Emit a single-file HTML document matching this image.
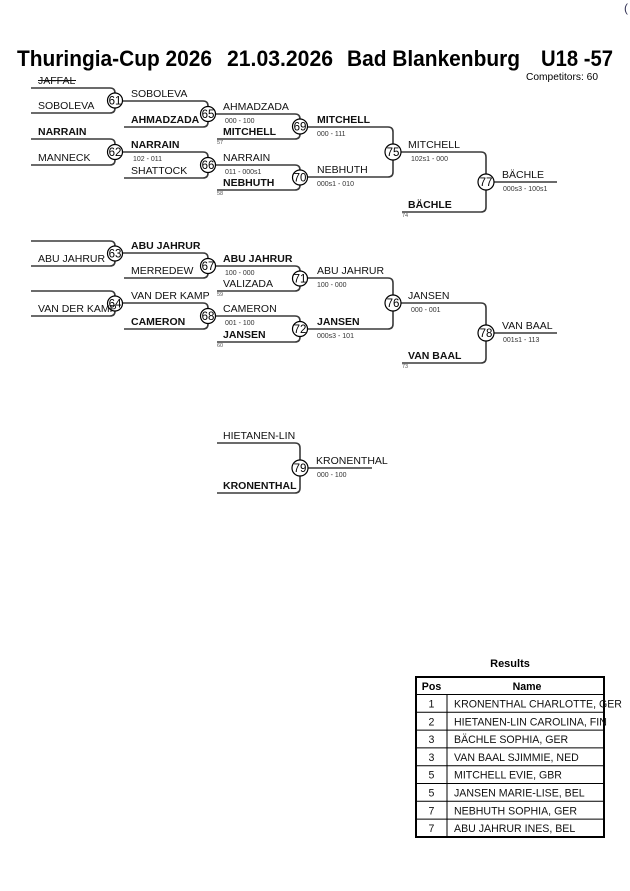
<!DOCTYPE html>
<html><head><meta charset="utf-8"><style>
html,body{margin:0;padding:0;background:#fff;}
svg{display:block;}
text{font-family:"Liberation Sans",Arial,sans-serif;}
.n{font-size:10.5px;fill:#111;}
.b{font-weight:bold;}
.s{font-size:7px;fill:#333;}
.t{font-size:5.5px;fill:#555;}
.c{font-size:11.5px;fill:#000;text-anchor:middle;}
.ln{fill:none;stroke:#3a3a3a;stroke-width:1.6;}
.fl{fill:none;stroke:#6a6a6a;stroke-width:2;}
.ci{fill:#fff;stroke:#000;stroke-width:1.2;}
.r{font-size:10.6px;fill:#111;}
</style></head><body>
<svg width="630" height="891" viewBox="0 0 630 891" xmlns="http://www.w3.org/2000/svg">
<!-- header -->
<text x="624" y="12" style="font-size:12px;fill:#335">(</text>
<text x="17" y="66" style="font-size:22px;font-weight:bold" textLength="195" lengthAdjust="spacingAndGlyphs">Thuringia-Cup 2026</text>
<text x="227" y="66" style="font-size:22px;font-weight:bold" textLength="106" lengthAdjust="spacingAndGlyphs">21.03.2026</text>
<text x="347" y="66" style="font-size:22px;font-weight:bold" textLength="173" lengthAdjust="spacingAndGlyphs">Bad Blankenburg</text>
<text x="541" y="66" style="font-size:22px;font-weight:bold" textLength="72" lengthAdjust="spacingAndGlyphs">U18 -57</text>
<text x="526" y="80" style="font-size:10px" textLength="72" lengthAdjust="spacingAndGlyphs">Competitors: 60</text>

<!-- bracket lines section 1 -->
<path class="ln" d="M31 88 H110 Q115 88 115 93 V108 Q115 113 110 113 H31"/>
<path class="ln" d="M31 139 H110 Q115 139 115 144 V160 Q115 165 110 165 H31"/>
<path class="ln" d="M115 101 H203 Q208 101 208 106 V122 Q208 127 203 127 H124"/>
<path class="ln" d="M115 152 H203 Q208 152 208 157 V173 Q208 178 203 178 H124"/>
<path class="ln" d="M208 114 H295 Q300 114 300 119 V134 Q300 139 295 139 H217"/>
<path class="ln" d="M208 165 H295 Q300 165 300 170 V185 Q300 190 295 190 H217"/>
<path class="ln" d="M300 127 H388 Q393 127 393 132 V172 Q393 177 388 177 H300"/>
<path class="ln" d="M393 152 H481 Q486 152 486 157 V207 Q486 212 481 212 H402"/>
<path class="fl" d="M486 182 H557"/>

<!-- bracket lines section 2 -->
<path class="ln" d="M31 241 H110 Q115 241 115 246 V261 Q115 266 110 266 H31"/>
<path class="ln" d="M31 291 H110 Q115 291 115 296 V311 Q115 316 110 316 H31"/>
<path class="ln" d="M115 253 H203 Q208 253 208 258 V273 Q208 278 203 278 H124"/>
<path class="ln" d="M115 303 H203 Q208 303 208 308 V324 Q208 329 203 329 H124"/>
<path class="ln" d="M208 266 H295 Q300 266 300 271 V286 Q300 291 295 291 H217"/>
<path class="ln" d="M208 316 H295 Q300 316 300 321 V337 Q300 342 295 342 H217"/>
<path class="ln" d="M300 278 H388 Q393 278 393 283 V324 Q393 329 388 329 H300"/>
<path class="ln" d="M393 303 H481 Q486 303 486 308 V358 Q486 363 481 363 H402"/>
<path class="fl" d="M486 333 H557"/>

<!-- section 3 -->
<path class="ln" d="M217 443 H295 Q300 443 300 448 V488 Q300 493 295 493 H217"/>
<path class="fl" d="M300 468 H372"/>

<!-- circles -->
<g>
<circle class="ci" cx="115" cy="100.5" r="7.5"/><text class="c" x="115" y="104.7">61</text>
<circle class="ci" cx="115" cy="152" r="7.5"/><text class="c" x="115" y="156.2">62</text>
<circle class="ci" cx="208" cy="114" r="7.5"/><text class="c" x="208" y="118.2">65</text>
<circle class="ci" cx="208" cy="165" r="7.5"/><text class="c" x="208" y="169.2">66</text>
<circle class="ci" cx="300" cy="126.5" r="7.5"/><text class="c" x="300" y="130.7">69</text>
<circle class="ci" cx="300" cy="177.5" r="7.5"/><text class="c" x="300" y="181.7">70</text>
<circle class="ci" cx="393" cy="152" r="8"/><text class="c" x="393" y="156.2">75</text>
<circle class="ci" cx="486" cy="182" r="8"/><text class="c" x="486" y="186.2">77</text>

<circle class="ci" cx="115" cy="253.5" r="7.5"/><text class="c" x="115" y="257.7">63</text>
<circle class="ci" cx="115" cy="303.5" r="7.5"/><text class="c" x="115" y="307.7">64</text>
<circle class="ci" cx="208" cy="266" r="7.5"/><text class="c" x="208" y="270.2">67</text>
<circle class="ci" cx="208" cy="316" r="7.5"/><text class="c" x="208" y="320.2">68</text>
<circle class="ci" cx="300" cy="278.5" r="7.5"/><text class="c" x="300" y="282.7">71</text>
<circle class="ci" cx="300" cy="329" r="7.5"/><text class="c" x="300" y="333.2">72</text>
<circle class="ci" cx="393" cy="303" r="8"/><text class="c" x="393" y="307.2">76</text>
<circle class="ci" cx="486" cy="333" r="8"/><text class="c" x="486" y="337.2">78</text>

<circle class="ci" cx="300" cy="468" r="8"/><text class="c" x="300" y="472.2">79</text>
</g>

<!-- names section 1 -->
<text class="n" x="38" y="84">JAFFAL</text>
<line x1="38" y1="80.5" x2="76" y2="80.5" stroke="#111" stroke-width="1"/>
<text class="n" x="38" y="109">SOBOLEVA</text>
<text class="n b" x="38" y="135">NARRAIN</text>
<text class="n" x="38" y="161">MANNECK</text>

<text class="n" x="131" y="97">SOBOLEVA</text>
<text class="n b" x="131" y="123">AHMADZADA</text>
<text class="n b" x="131" y="148">NARRAIN</text>
<text class="s" x="133" y="161">102 - 011</text>
<text class="n" x="131" y="174">SHATTOCK</text>

<text class="n" x="223" y="110">AHMADZADA</text>
<text class="s" x="225" y="123">000 - 100</text>
<text class="n b" x="223" y="135">MITCHELL</text>
<text class="t" x="217" y="144">57</text>
<text class="n" x="223" y="161">NARRAIN</text>
<text class="s" x="225" y="174">011 - 000s1</text>
<text class="n b" x="223" y="186">NEBHUTH</text>
<text class="t" x="217" y="195">58</text>

<text class="n b" x="317" y="123">MITCHELL</text>
<text class="s" x="317" y="136">000 - 111</text>
<text class="n" x="317" y="173">NEBHUTH</text>
<text class="s" x="317" y="186">000s1 - 010</text>

<text class="n" x="408" y="148">MITCHELL</text>
<text class="s" x="411" y="161">102s1 - 000</text>
<text class="n b" x="408" y="208">BÄCHLE</text>
<text class="t" x="402" y="217">74</text>

<text class="n" x="502" y="178">BÄCHLE</text>
<text class="s" x="503" y="191">000s3 - 100s1</text>

<!-- names section 2 -->
<text class="n" x="38" y="262">ABU JAHRUR</text>
<text class="n" x="38" y="312">VAN DER KAMP</text>

<text class="n b" x="131" y="249">ABU JAHRUR</text>
<text class="n" x="131" y="274">MERREDEW</text>
<text class="n" x="131" y="299">VAN DER KAMP</text>
<text class="n b" x="131" y="325">CAMERON</text>

<text class="n b" x="223" y="262">ABU JAHRUR</text>
<text class="s" x="225" y="275">100 - 000</text>
<text class="n" x="223" y="287">VALIZADA</text>
<text class="t" x="217" y="296">59</text>
<text class="n" x="223" y="312">CAMERON</text>
<text class="s" x="225" y="325">001 - 100</text>
<text class="n b" x="223" y="338">JANSEN</text>
<text class="t" x="217" y="347">60</text>

<text class="n" x="317" y="274">ABU JAHRUR</text>
<text class="s" x="317" y="287">100 - 000</text>
<text class="n b" x="317" y="325">JANSEN</text>
<text class="s" x="317" y="338">000s3 - 101</text>

<text class="n" x="408" y="299">JANSEN</text>
<text class="s" x="411" y="312">000 - 001</text>
<text class="n b" x="408" y="359">VAN BAAL</text>
<text class="t" x="402" y="368">73</text>

<text class="n" x="502" y="329">VAN BAAL</text>
<text class="s" x="503" y="342">001s1 - 113</text>

<!-- section 3 names -->
<text class="n" x="223" y="439">HIETANEN-LIN</text>
<text class="n b" x="223" y="489">KRONENTHAL</text>
<text class="n" x="316" y="464">KRONENTHAL</text>
<text class="s" x="317" y="477">000 - 100</text>

<!-- results -->
<text x="510" y="667" style="font-size:11px;font-weight:bold;text-anchor:middle">Results</text>
<g stroke="#000" stroke-width="1">
<line x1="416" y1="694.5" x2="604" y2="694.5"/>
<line x1="416" y1="712.3" x2="604" y2="712.3"/>
<line x1="416" y1="730.1" x2="604" y2="730.1"/>
<line x1="416" y1="747.9" x2="604" y2="747.9"/>
<line x1="416" y1="765.7" x2="604" y2="765.7"/>
<line x1="416" y1="783.5" x2="604" y2="783.5"/>
<line x1="416" y1="801.3" x2="604" y2="801.3"/>
<line x1="416" y1="819.1" x2="604" y2="819.1"/>
<line x1="447" y1="694.5" x2="447" y2="837"/>
</g>
<rect x="416" y="677" width="188" height="160" fill="none" stroke="#000" stroke-width="2"/>
<text x="431.5" y="690" style="font-size:10.6px;font-weight:bold;text-anchor:middle">Pos</text>
<text x="527" y="690" style="font-size:10.6px;font-weight:bold;text-anchor:middle">Name</text>
<g class="r">
<text x="431.5" y="707.5" text-anchor="middle">1</text><text x="454" y="707.5">KRONENTHAL CHARLOTTE, GER</text>
<text x="431.5" y="725.3" text-anchor="middle">2</text><text x="454" y="725.3">HIETANEN-LIN CAROLINA, FIN</text>
<text x="431.5" y="743.1" text-anchor="middle">3</text><text x="454" y="743.1">BÄCHLE SOPHIA, GER</text>
<text x="431.5" y="760.9" text-anchor="middle">3</text><text x="454" y="760.9">VAN BAAL SJIMMIE, NED</text>
<text x="431.5" y="778.7" text-anchor="middle">5</text><text x="454" y="778.7">MITCHELL EVIE, GBR</text>
<text x="431.5" y="796.5" text-anchor="middle">5</text><text x="454" y="796.5">JANSEN MARIE-LISE, BEL</text>
<text x="431.5" y="814.3" text-anchor="middle">7</text><text x="454" y="814.3">NEBHUTH SOPHIA, GER</text>
<text x="431.5" y="832.1" text-anchor="middle">7</text><text x="454" y="832.1">ABU JAHRUR INES, BEL</text>
</g>
</svg>
</body></html>
